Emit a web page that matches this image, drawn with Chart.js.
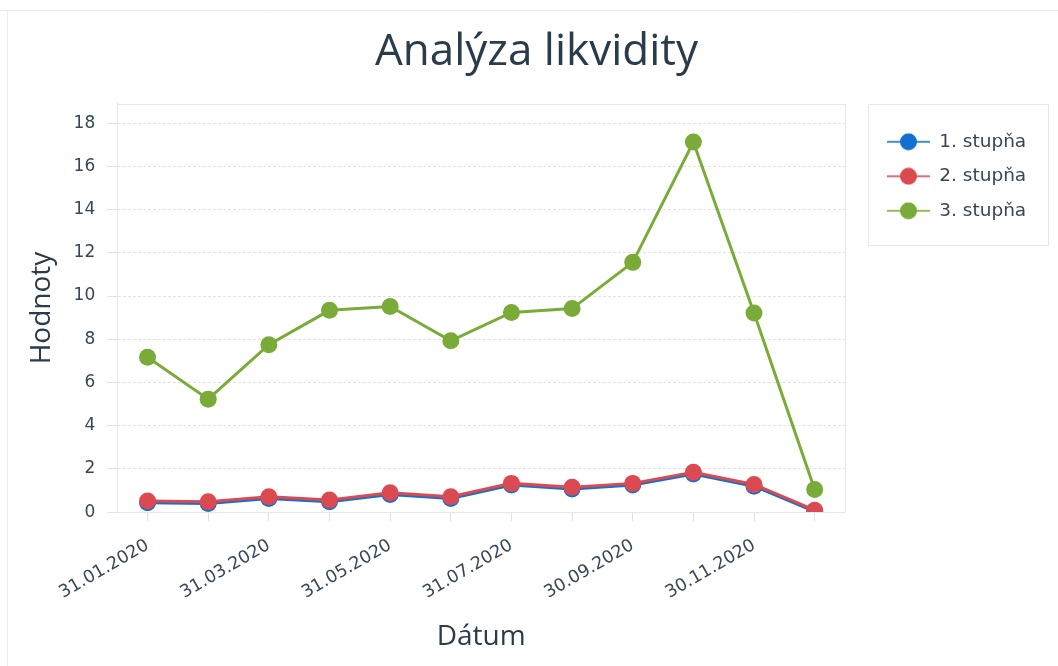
<!DOCTYPE html>
<html>
<head>
<meta charset="utf-8">
<script src="https://cdn.jsdelivr.net/npm/chart.js@4"></script>
<style>
  html, body { margin: 0; padding: 0; background: #fff; }
  #wrap { position: absolute; left: 0; top: 0; width: 1058px; height: 666px; }
</style>
</head>
<body>
<div id="wrap"><canvas id="Chart1" width="1058" height="666"></canvas></div>
<script>
// data
var dates = ["31.01.2020", "29.02.2020", "31.03.2020", "30.04.2020", "31.05.2020", "30.06.2020",
             "31.07.2020", "31.08.2020", "30.09.2020", "31.10.2020", "30.11.2020", "31.12.2020"];
var stupna1 = [0.43, 0.40, 0.63, 0.48, 0.82, 0.63, 1.25, 1.07, 1.25, 1.76, 1.20, 0.03];
var stupna2 = [0.51, 0.48, 0.71, 0.56, 0.90, 0.71, 1.33, 1.15, 1.33, 1.84, 1.28, 0.09];
var stupna3 = [7.17, 5.23, 7.75, 9.34, 9.52, 7.93, 9.24, 9.42, 11.56, 17.13, 9.22, 1.05];
var seriesNames = ["1. stupňa", "2. stupňa", "3. stupňa"];
var yTicks = [0, 2, 4, 6, 8, 10, 12, 14, 16, 18];

var colors = ["#1270d0", "#db4a50", "#7aab38"];
var textColor = "#36475a";
var gridColor = "rgba(205,205,222,0.6)";

// little line + dot image for legend entries
function legendIcon(color) {
    var c = document.createElement('canvas');
    c.width = 43; c.height = 18;
    var ctx = c.getContext('2d');
    ctx.strokeStyle = color;
    ctx.globalAlpha = 0.8;
    ctx.lineWidth = 2;
    ctx.beginPath(); ctx.moveTo(0, 9); ctx.lineTo(43, 9); ctx.stroke();
    ctx.globalAlpha = 1;
    ctx.fillStyle = color;
    ctx.beginPath(); ctx.arc(21.5, 9, 8.5, 0, Math.PI * 2); ctx.fill();
    return c;
}

var frame = {
    id: 'frame',
    beforeInit: function(chart) {
        var fit = chart.legend.fit;
        chart.legend.fit = function() {
            fit.bind(chart.legend)();
            this.width = 203;
        };
    },
    afterLayout: function(chart) {
        chart.legend.left += 26;
    },
    beforeDraw: function(chart) {
        var ctx = chart.ctx;
        ctx.save();
        ctx.strokeStyle = "#ececef";
        ctx.lineWidth = 1;
        ctx.beginPath();
        ctx.moveTo(0, 10.5); ctx.lineTo(1058, 10.5);
        ctx.moveTo(7.5, 10); ctx.lineTo(7.5, 666);
        ctx.stroke();
        ctx.restore();
    },
    afterDraw: function(chart) {
        var a = chart.chartArea, ctx = chart.ctx;
        ctx.save();
        ctx.strokeStyle = "#e6e6ec";
        ctx.lineWidth = 1;
        ctx.strokeRect(Math.round(a.left) + 0.5, Math.round(a.top) + 0.5,
                       Math.round(a.right - a.left), Math.round(a.bottom - a.top));
        ctx.strokeRect(Math.round(a.right) + 23.5, Math.round(a.top) + 0.5, 180, 141);
        ctx.restore();
    }
};

document.addEventListener("DOMContentLoaded", function() {
    var sets = [stupna1, stupna2, stupna3];
    new Chart(document.getElementById('Chart1'), {
        type: 'line',
        plugins: [frame],
        data: {
            labels: dates,
            datasets: sets.map(function(d, i) {
                return {
                    label: seriesNames[i],
                    data: d,
                    borderColor: colors[i],
                    backgroundColor: colors[i],
                    borderWidth: 3,
                    pointRadius: 8.5,
                    pointHoverRadius: 8.5,
                    pointBorderWidth: 0,
                    tension: 0,
                    order: 3 - i
                };
            })
        },
        options: {
            responsive: false,
            animation: false,
            layout: { padding: { top: 10, right: 10, left: 25, bottom: 8 } },
            plugins: {
                title: {
                    display: true,
                    text: "Analýza likvidity",
                    color: "#2a3b4c",
                    font: { family: "'Open Sans', sans-serif", size: 44, weight: 'normal' },
                    padding: { top: 16, bottom: 25 }
                },
                legend: {
                    position: 'right',
                    align: 'start',
                    fullSize: false,
                    title: { display: true, text: ' ', padding: 0, font: { size: 10.6 } },
                    labels: {
                        color: textColor,
                        font: { family: "'DejaVu Sans', sans-serif", size: 18.5 },
                        padding: 16,
                        usePointStyle: true,
                        pointStyleWidth: 43,
                        generateLabels: function(chart) {
                            return chart.data.datasets.map(function(ds, i) {
                                return {
                                    text: ds.label,
                                    pointStyle: legendIcon(colors[i]),
                                    fillStyle: colors[i],
                                    strokeStyle: colors[i],
                                    lineWidth: 0,
                                    datasetIndex: i,
                                    fontColor: textColor
                                };
                            });
                        }
                    }
                },
                tooltip: { enabled: false }
            },
            scales: {
                x: {
                    offset: true,
                    grid: { color: gridColor, drawOnChartArea: false, drawTicks: true, tickLength: 9, offset: false },
                    border: { color: "#e4e4ea" },
                    ticks: {
                        autoSkip: false,
                        minRotation: 30,
                        maxRotation: 30,
                        padding: 14,
                        color: textColor,
                        font: { family: "'DejaVu Sans', sans-serif", size: 17.5 },
                        callback: function(v, i) { return i % 2 === 0 ? dates[i] : ''; }
                    },
                    title: {
                        display: true,
                        text: "Dátum",
                        color: "#2a3b4c",
                        font: { family: "'Open Sans', sans-serif", size: 28 },
                        padding: { top: 3, bottom: 4 }
                    }
                },
                y: {
                    min: 0,
                    max: 18.9,
                    afterBuildTicks: function(axis) {
                        axis.ticks = yTicks.map(function(v) { return { value: v }; });
                    },
                    grid: { color: gridColor, tickLength: 10 },
                    border: { color: "#e4e4ea", dash: [3, 2] },
                    ticks: {
                        color: textColor,
                        padding: 12,
                        font: { family: "'DejaVu Sans', sans-serif", size: 17 }
                    },
                    title: {
                        display: true,
                        text: "Hodnoty",
                        color: "#2a3b4c",
                        font: { family: "'Open Sans', sans-serif", size: 28 },
                        padding: { top: 0, bottom: 3 }
                    }
                }
            }
        }
    });
});
</script>
</body>
</html>
